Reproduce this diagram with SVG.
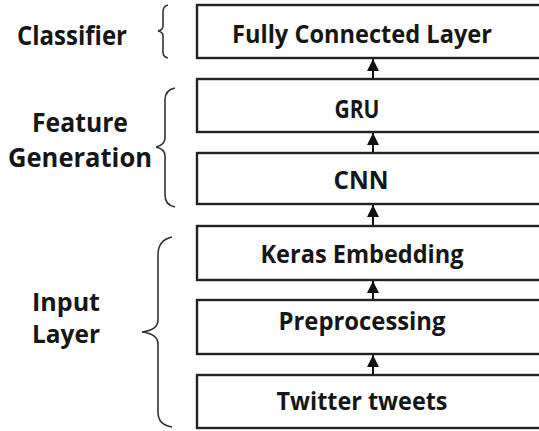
<svg xmlns="http://www.w3.org/2000/svg" width="539" height="431" viewBox="0 0 539 431">
<style>
.box{fill:#fff;stroke:#222;stroke-width:2.4}
.t{font-family:"Open Sans","Liberation Sans",Arial,sans-serif;font-weight:bold;font-size:25px;fill:#161616;text-anchor:middle}
.lbl{font-family:"Open Sans","Liberation Sans",Arial,sans-serif;font-weight:bold;font-size:27px;fill:#161616;text-anchor:middle}
.sm{font-size:25px}
.br{fill:none;stroke:#333;stroke-width:1.6}
.c{stroke:#111;stroke-width:2;fill:none}
</style>
<defs>
<marker id="ah" viewBox="0 0 12 12" refX="12" refY="6" markerWidth="12" markerHeight="13" markerUnits="userSpaceOnUse" orient="auto">
<path d="M0,0 L12,6 L0,12 z" fill="#111"/>
</marker>
</defs>
<rect width="539" height="431" fill="#fff"/>
<g id="labels">
<text class="lbl" x="72" y="45" textLength="110" lengthAdjust="spacingAndGlyphs">Classifier</text>
<text class="lbl" x="80" y="132" textLength="96" lengthAdjust="spacingAndGlyphs">Feature</text>
<text class="lbl" x="80" y="167" textLength="144" lengthAdjust="spacingAndGlyphs">Generation</text>
<text class="lbl sm" x="66" y="311" textLength="68" lengthAdjust="spacingAndGlyphs">Input</text>
<text class="lbl sm" x="66" y="343" textLength="68" lengthAdjust="spacingAndGlyphs">Layer</text>
</g>
<g id="brackets">
<path class="br" d="M168,5 Q163,6 163,12 L163,26 Q163,30 158,31 Q163,32 163,36 L163,52 Q163,57 168,58"/>
<path class="br" d="M175,88 Q165,90 165,100 L165,138 Q165,145 156,147 Q165,149 165,156 L165,195 Q165,205 175,207"/>
<path class="br" d="M172,237 Q158,240 158,255 L158,320 Q158,330 142,332 Q158,334 158,344 L158,412 Q158,425 172,427"/>
</g>
<g id="n-fcl"><rect class="box" x="197" y="5" width="350" height="53"/><text class="t" x="362" y="43" textLength="260" lengthAdjust="spacingAndGlyphs">Fully Connected Layer</text></g>
<g id="n-gru"><rect class="box" x="197" y="79" width="350" height="53"/><text class="t" x="357" y="118" textLength="45" lengthAdjust="spacingAndGlyphs">GRU</text></g>
<g id="n-cnn"><rect class="box" x="197" y="153" width="350" height="51"/><text class="t" x="361" y="189" textLength="55" lengthAdjust="spacingAndGlyphs">CNN</text></g>
<g id="n-keras"><rect class="box" x="197" y="226" width="350" height="54"/><text class="t" x="362" y="263" textLength="203" lengthAdjust="spacingAndGlyphs">Keras Embedding</text></g>
<g id="n-prep"><rect class="box" x="197" y="300" width="350" height="54"/><text class="t" x="362" y="330" textLength="167" lengthAdjust="spacingAndGlyphs">Preprocessing</text></g>
<g id="n-tw"><rect class="box" x="197" y="375" width="350" height="53"/><text class="t" x="362" y="410" textLength="171" lengthAdjust="spacingAndGlyphs">Twitter tweets</text></g>
<g id="connectors">
<line class="c" x1="373" y1="78" x2="373" y2="59" marker-end="url(#ah)"/>
<line class="c" x1="373" y1="152" x2="373" y2="133" marker-end="url(#ah)"/>
<line class="c" x1="373" y1="225" x2="373" y2="205" marker-end="url(#ah)"/>
<line class="c" x1="373" y1="299" x2="373" y2="281" marker-end="url(#ah)"/>
<line class="c" x1="373" y1="374" x2="373" y2="355" marker-end="url(#ah)"/>
</g>
</svg>
